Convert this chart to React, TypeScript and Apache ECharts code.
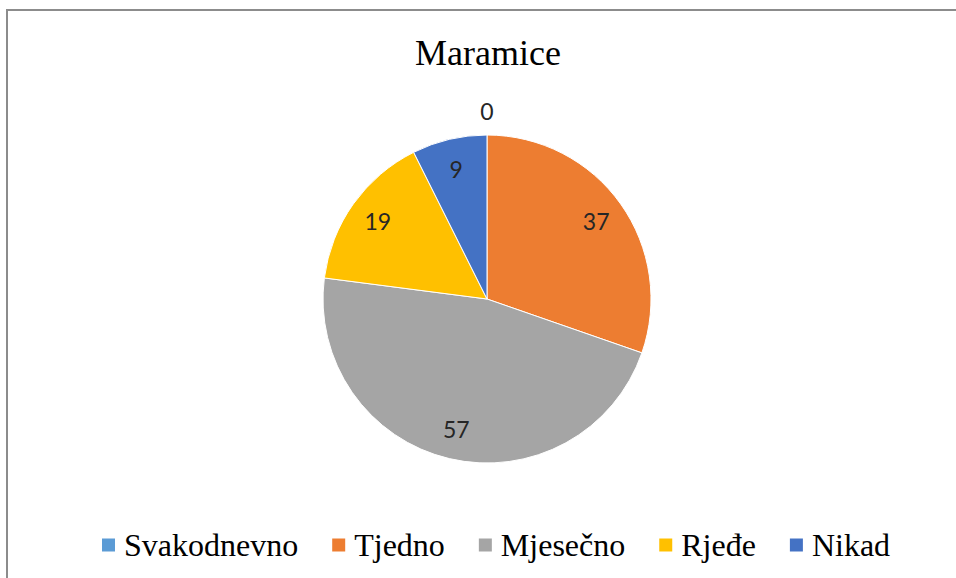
import React, { useEffect, useRef } from "react";
import * as echarts from "echarts";

const categories = ["Svakodnevno", "Tjedno", "Mjesečno", "Rjeđe", "Nikad"];
const values = [0, 37, 57, 19, 9];
const colors = ["#5B9BD5", "#ED7D31", "#A5A5A5", "#FFC000", "#4472C4"];
const titleText = "Maramice";

export default function App() {
  const ref = useRef<HTMLDivElement>(null);
  useEffect(() => {
    if (!ref.current) return;
    const chart = echarts.init(ref.current, null, { renderer: "svg" });
    const center = [487, 299];
    const labelFont = { fontFamily: "Lato", fontSize: 23, color: "#262626" };
    chart.setOption({
      animation: false,
      backgroundColor: "#ffffff",
      color: colors,
      title: {
        text: titleText,
        left: 415,
        top: 35,
        padding: 0,
        textStyle: { fontFamily: "Liberation Serif", fontSize: 36, fontWeight: "normal", color: "#000" },
      },
      legend: {
        data: categories,
        left: 100,
        top: 529,
        padding: 0,
        icon: "rect",
        itemWidth: 15,
        itemHeight: 15,
        itemGap: 32,
        selectedMode: false,
        textStyle: { fontFamily: "Liberation Serif", fontSize: 32, color: "#000", padding: [0, 0, 0, 3] },
      },
      graphic: [
        {
          type: "rect",
          shape: { x: 7, y: 10, width: 1000, height: 1000 },
          style: { fill: "none", stroke: "#8c8c8c", lineWidth: 2 },
          silent: true,
          z: -1,
        },
      ],
      series: [
        {
          type: "pie",
          name: "main",
          center,
          radius: [0, 164],
          startAngle: 90,
          clockwise: true,
          silent: true,
          label: { show: false },
          labelLine: { show: false },
          itemStyle: { borderColor: "#ffffff", borderWidth: 1 },
          emphasis: { disabled: true },
          data: categories.map((name, i) => ({ name, value: values[i] })),
        },
        {
          type: "pie",
          name: "labels",
          center,
          radius: [98, 164],
          startAngle: 90,
          clockwise: true,
          silent: true,
          legendHoverLink: false,
          itemStyle: { color: "rgba(0,0,0,0)" },
          labelLine: { show: false },
          emphasis: { disabled: true },
          label: { show: true, position: "inside", formatter: "{c}", ...labelFont },
          data: categories.map((name, i) => ({
            name,
            value: values[i],
            label: { show: values[i] !== 0 },
          })),
        },
        {
          type: "pie",
          name: "zeroLabels",
          center,
          radius: [170, 200],
          startAngle: 90,
          clockwise: true,
          silent: true,
          legendHoverLink: false,
          itemStyle: { color: "rgba(0,0,0,0)" },
          labelLine: { show: false },
          emphasis: { disabled: true },
          label: { show: true, position: "inside", formatter: "{c}", ...labelFont },
          data: categories.map((name, i) => ({
            name,
            value: values[i],
            label: { show: values[i] === 0 },
          })),
        },
      ],
    });
    return () => chart.dispose();
  }, []);
  return (
    <div
      ref={ref}
      style={{ position: "absolute", left: 0, top: 0, width: 956, height: 578 }}
    />
  );
}
